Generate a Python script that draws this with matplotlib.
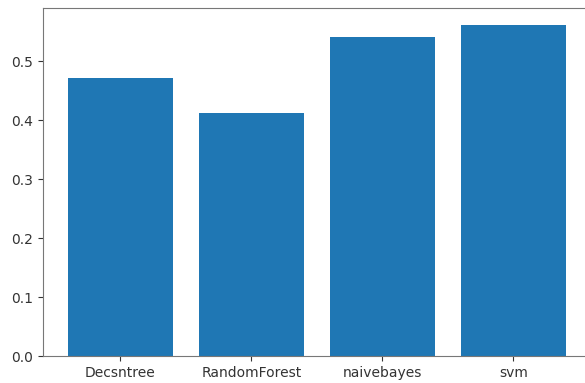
import matplotlib
matplotlib.use('Agg')
import matplotlib.pyplot as plt

# Accuracy scores per classifier
models = ['Decsntree', 'RandomForest', 'naivebayes', 'svm']
scores = [0.471, 0.412, 0.541, 0.561]

fig = plt.figure(figsize=(5.85, 3.83), dpi=100)
# axes run slightly past the right edge, so the right spine is cut off
ax = fig.add_axes([43/585, 27/383, 560/585, 348/383])
ax.bar(models, scores, color='#1f77b4')
ax.set_xlim(-0.59, 3.685)
ax.set_ylim(0, 0.59)
ax.set_yticks([0.0, 0.1, 0.2, 0.3, 0.4, 0.5])
ax.tick_params(labelsize=10, colors='#333333')
for s in ax.spines.values():
    s.set_color('#777777')

plt.savefig('out.png', dpi=100)
